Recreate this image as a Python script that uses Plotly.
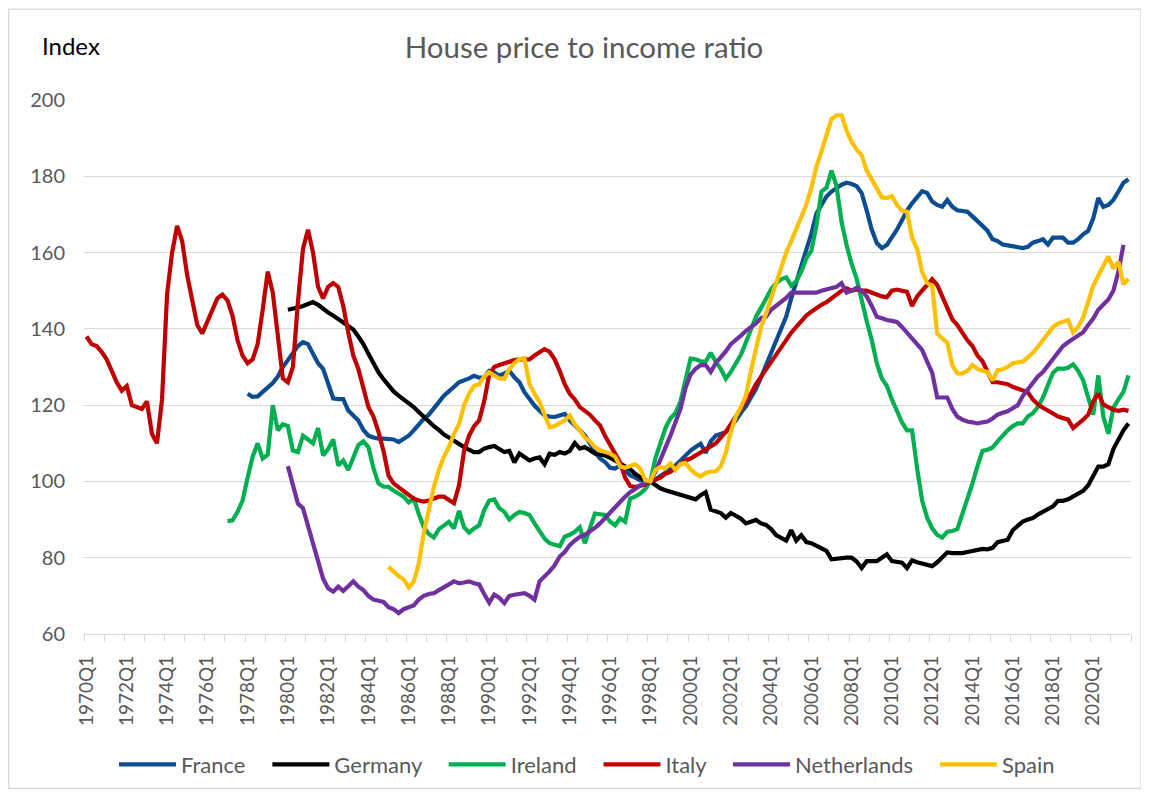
import plotly.graph_objects as go

# ---------------- data ----------------
years = list(range(1970, 2022))
quarters = [f"{y}Q{q}" for y in years for q in range(1, 5)]   # 1970Q1 .. 2021Q4
tick_labels = [q for q in quarters if q.endswith("Q1") and int(q[:4]) % 2 == 0]

italy = [
    138, 136, 135.5, 134,      # 1970
    132, 129, 126, 123.8,      # 1971
    125, 120, 119.5, 119,      # 1972
    121, 112.5, 110, 121.5,    # 1973
    149, 160, 167, 163,        # 1974
    154, 147, 141, 138.8,      # 1975
    142, 145.5, 148, 149,      # 1976
    147.5, 143.5, 137, 133,    # 1977
    131, 132, 136, 145,        # 1978
    155, 149.5, 138, 127,      # 1979
    126, 130, 147, 161,        # 1980
    166, 160, 151, 148,        # 1981
    151, 152, 151, 146,        # 1982
    139, 133, 129.5, 124,      # 1983
    119.5, 117, 113, 108,      # 1984
    101.5, 99.5, 98.5, 97.5,   # 1985
    96.5, 95.5, 95, 94.7,      # 1986
    95, 95.5, 96, 96,          # 1987
    95.2, 94.3, 99, 108,       # 1988
    112, 114.5, 116, 121,      # 1989
    128, 130, 130.5, 131,      # 1990
    131.5, 131.8, 132, 132,    # 1991
    132, 133, 134, 134.7,      # 1992
    134, 132, 129, 125.5,      # 1993
    123, 121.5, 119.5, 118.5,  # 1994
    117.5, 116, 114.7, 112,    # 1995
    109.5, 107.5, 105, 101,    # 1996
    98.8, 98.5, 98.8, 99.2,    # 1997
    100, 100.5, 101, 102,      # 1998
    102.5, 103.5, 104.5, 105.5,# 1999
    106, 106.8, 107.3, 108.2,  # 2000
    109, 110, 111.5, 113,      # 2001
    115, 117, 119, 121,        # 2002
    123, 125.5, 127.5, 129.5,  # 2003
    131.5, 133.5, 135.5, 137.5,# 2004
    139, 140.5, 142, 143.5,    # 2005
    144.5, 145.5, 146.3, 147,  # 2006
    148, 149, 150, 150.6,      # 2007
    150, 150.3, 150, 150,      # 2008
    149.5, 149, 148.5, 148.3,  # 2009
    150, 150.3, 150, 149.7,    # 2010
    146, 148.5, 150, 151.5,    # 2011
    153, 151.5, 148.5, 145,    # 2012
    142.5, 141, 139, 137,      # 2013
    135.5, 133, 131.5, 129,    # 2014
    126, 126, 125.7, 125.5,    # 2015
    124.8, 124.3, 123.8, 123.4,# 2016
    121.5, 120.2, 119.3, 118.4,# 2017
    117.8, 117, 116.5, 116.2,  # 2018
    114, 115, 116.2, 117.5,    # 2019
    121, 123, 120.2, 119.5,    # 2020
    118.8, 118.5, 118.8, 118.5,# 2021
]

germany = [None] * 40 + [
    145, 145.2, 145.6, 146,    # 1980
    146.5, 147, 146.3, 145.2,  # 1981
    144.3, 143.5, 142.6, 141.8,# 1982
    141, 139.8, 138, 136,      # 1983
    133.5, 131, 128.6, 126.8,  # 1984
    125, 123.6, 122.5, 121.5,  # 1985
    120.6, 119.5, 118.2, 117,  # 1986
    115.5, 114.5, 113.5, 112.3,# 1987
    111.5, 110.6, 109.8, 109,  # 1988
    108.3, 107.7, 107.7, 108.6,# 1989
    109, 109.3, 108.5, 107.7,  # 1990
    108, 105, 107.3, 106.5,    # 1991
    105.5, 106, 106.3, 104.5,  # 1992
    107.3, 107, 107.7, 107.3,  # 1993
    108, 110.1, 108.6, 109,    # 1994
    108, 107.3, 107, 106.8,    # 1995
    106.2, 105.5, 104.8, 104.2,# 1996
    103.2, 102, 101, 100.2,    # 1997
    100, 99, 98.2, 97.7,       # 1998
    97.3, 97, 96.6, 96.2,      # 1999
    95.8, 95.3, 96.4, 97.2,    # 2000
    92.6, 92.2, 91.7, 90.5,    # 2001
    91.7, 91, 90.2, 89,        # 2002
    89.5, 89.9, 89, 88.6,      # 2003
    87.5, 85.9, 85.2, 84.5,    # 2004
    87.2, 84.5, 85.9, 84.1,    # 2005
    83.8, 83.2, 82.5, 81.8,    # 2006
    79.6, 79.8, 80, 80,        # 2007
    80, 79, 77.3, 79.1,        # 2008
    79.1, 79.1, 80, 80.9,      # 2009
    79.1, 78.9, 78.7, 77.3,    # 2010
    79.3, 78.8, 78.5, 78.2,    # 2011
    77.8, 78.8, 80.2, 81.4,    # 2012
    81.2, 81.1, 81.2, 81.5,    # 2013
    81.8, 82.1, 82.3, 82.2,    # 2014
    82.6, 84.1, 84.3, 84.7,    # 2015
    87.2, 88.4, 89.5, 90,      # 2016
    90.4, 91.3, 92, 92.5,      # 2017
    93.5, 94.9, 94.9, 95.3,    # 2018
    96, 96.8, 97.5, 99,        # 2019
    101.5, 103.9, 103.9, 104.5,# 2020
    108.5, 111.1, 113.4, 115.2,# 2021
]

france = [None] * 32 + [
    123, 122.2, 122.3, 123.4,  # 1978
    124.5, 125.8, 127.5, 130,  # 1979
    131.8, 133.5, 135.5, 136.5,# 1980
    136, 133.5, 131, 129.5,    # 1981
    125.5, 121.8, 121.6, 121.6,# 1982
    118.6, 117.3, 116, 113.5,  # 1983
    112, 111.5, 111.2, 111.2,  # 1984
    111.2, 111, 110.3, 111,    # 1985
    112, 113.4, 115, 116.4,    # 1986
    117.5, 119, 120.8, 122.5,  # 1987
    123.8, 124.8, 126, 126.4,  # 1988
    127, 127.7, 127.2, 127.3,  # 1989
    129, 128.6, 127.7, 128.3,  # 1990
    129, 127.3, 126, 123.4,    # 1991
    121.5, 119.9, 118.5, 117.3,# 1992
    117, 116.9, 117.3, 117.7,  # 1993
    116, 114.7, 113.5, 112.1,  # 1994
    110, 107.7, 106, 105.1,    # 1995
    103.6, 103.4, 104.2, 103,  # 1996
    101.6, 101, 100.3, 100.3,  # 1997
    100, 100.5, 101.3, 102.1,  # 1998
    103.2, 104.2, 105.5, 106.8,# 1999
    108.1, 109, 109.9, 107.5,  # 2000
    110.5, 112, 112.5, 112.9,  # 2001
    114.5, 116, 118, 119.7,    # 2002
    122, 124.2, 127.3, 130.5,  # 2003
    133.7, 136.9, 140, 143.2,  # 2004
    148, 152.2, 156, 160.3,    # 2005
    165, 170.2, 172.5, 174.7,  # 2006
    176, 177, 177.8, 178.3,    # 2007
    178, 177.4, 175.6, 171,    # 2008
    166, 162.5, 161.2, 162,    # 2009
    164, 166, 168.5, 171,      # 2010
    172.9, 174.5, 176.1, 175.6,# 2011
    173.4, 172.5, 172, 173.8,  # 2012
    172, 171.1, 170.9, 170.7,  # 2013
    169.5, 168.4, 167, 165.7,  # 2014
    163.5, 163, 162.1, 161.9,  # 2015
    161.7, 161.5, 161.2, 161.5,# 2016
    162.6, 163, 163.5, 162.1,  # 2017
    163.9, 163.9, 163.9, 162.6,# 2018
    162.6, 163.5, 164.8, 165.7,# 2019
    169, 174.3, 172, 172.5,    # 2020
    173.8, 176, 178.3, 179.2,  # 2021
]

ireland = [None] * 28 + [
    89.6, 89.8, 92, 95,        # 1977
    101, 106.5, 110, 106,      # 1978
    107, 120, 113.4, 115,      # 1979
    114.5, 108.1, 107.7, 112,  # 1980
    111, 110, 114, 106.8,      # 1981
    108.5, 111, 104.2, 105.5,  # 1982
    103, 106, 109.5, 110.5,    # 1983
    109, 103.5, 99.5, 98.6,    # 1984
    98.6, 97.6, 96.8, 96,      # 1985
    94.5, 95.5, 91.5, 88,      # 1986
    86.2, 85.3, 87.5, 88.5,    # 1987
    89.4, 87.7, 92.3, 88,      # 1988
    86.6, 87.7, 88.5, 92.5,    # 1989
    95, 95.3, 93, 92,          # 1990
    90, 91.2, 92, 91.7,        # 1991
    91.2, 89, 86.8, 85,        # 1992
    83.8, 83.3, 83, 85.5,      # 1993
    86, 86.8, 88, 83.8,        # 1994
    88, 91.6, 91.4, 91.2,      # 1995
    89.5, 88.5, 90.3, 89.4,    # 1996
    95.5, 96, 96.8, 98,        # 1997
    100, 106, 110, 114,        # 1998
    116.5, 118, 121, 127,      # 1999
    132.2, 132, 131.5, 131.4,  # 2000
    133.7, 131.4, 129.5, 126.9,# 2001
    128.7, 131, 133.2, 136.5,  # 2002
    140, 143.2, 145.5, 148,    # 2003
    150.4, 152, 153, 153.5,    # 2004
    151.3, 152.5, 155, 158.5,  # 2005
    160.5, 167, 176, 177,      # 2006
    181.5, 177.4, 168, 162,    # 2007
    157, 153.1, 147, 142,      # 2008
    137, 131, 127, 125,        # 2009
    121.5, 118.5, 115.5, 113.4,# 2010
    113.4, 103.5, 95, 90.5,    # 2011
    87.7, 86, 85.3, 86.8,      # 2012
    87, 87.5, 91.5, 95,        # 2013
    99.5, 104, 108, 108.3,     # 2014
    108.9, 110.5, 112, 113.4,  # 2015
    114.5, 115.2, 115.2, 117,  # 2016
    117.9, 119.5, 122, 125.5,  # 2017
    128.5, 129.6, 129.5, 129.8,# 2018
    130.7, 129, 126.5, 122,    # 2019
    117.5, 127.8, 117, 112.5,  # 2020
    119.3, 121.5, 123.5, 127.8,# 2021
]

netherlands = [None] * 40 + [
    104, 99, 94.2, 93,         # 1980
    88.5, 84, 79.8, 74.5,      # 1981
    72, 71.1, 72.4, 71.3,      # 1982
    72.5, 73.8, 72.4, 71.5,    # 1983
    70, 69, 68.7, 68.4,        # 1984
    67, 66.5, 65.5, 66.5,      # 1985
    67, 67.5, 69, 70,          # 1986
    70.5, 70.7, 71.5, 72.4,    # 1987
    73, 73.8, 73.3, 73.5,      # 1988
    73.8, 73.3, 73, 70.5,      # 1989
    68.2, 70.3, 69.5, 68.1,    # 1990
    70, 70.3, 70.5, 70.7,      # 1991
    70, 69, 73.8, 75,          # 1992
    76.4, 78, 80.3, 81.5,      # 1993
    83.3, 84.5, 85.5, 86,      # 1994
    86.8, 87.8, 89, 90.5,      # 1995
    92, 93.3, 94.6, 96,        # 1996
    97.2, 98, 99, 99.6,        # 1997
    100, 102.5, 105.5, 109,    # 1998
    112, 115.5, 119, 124.5,    # 1999
    128, 129.5, 130.5, 130.5,  # 2000
    128.7, 131, 132.5, 134.1,  # 2001
    136, 137, 138.2, 139.5,    # 2002
    140.5, 141.4, 142.8, 143.2,# 2003
    145, 146, 147, 148.1,      # 2004
    149.5, 149.5, 149.5, 149.3,# 2005
    149.5, 149.5, 150, 150.4,  # 2006
    150.8, 151, 152, 149.5,    # 2007
    150, 150.8, 150, 148.5,    # 2008
    146, 143.2, 142.8, 142.3,  # 2009
    142.1, 141.8, 140.5, 139,  # 2010
    137.8, 136, 134.5, 131.4,  # 2011
    128.5, 122, 122, 122,      # 2012
    119, 117, 116.2, 115.7,    # 2013
    115.5, 115.2, 115.5, 115.7,# 2014
    116.5, 117.5, 118, 118.4,  # 2015
    119.2, 120, 122.4, 124,    # 2016
    126, 127.5, 128.7, 130.5,  # 2017
    132.3, 134, 135.5, 136.5,  # 2018
    137.3, 138.2, 139.1, 141,  # 2019
    142.7, 145, 146.3, 147.7,  # 2020
    150, 155, 162, None,       # 2021
]

spain = [None] * 60 + [
    77.6, 76.3, 75.2, 74.3,    # 1985
    72.2, 73.7, 78.5, 86.5,    # 1986
    93, 98.5, 103, 106.5,      # 1987
    109, 112.5, 115, 120,      # 1988
    123, 125, 125.5, 127.5,    # 1989
    128.6, 127.8, 127, 126.9,  # 1990
    129.5, 131, 132.1, 132.3,  # 1991
    125.5, 123, 120.8, 117.5,  # 1992
    114.2, 114.5, 115.1, 116,  # 1993
    117.3, 115, 113.4, 111.5,  # 1994
    110.5, 109, 108.2, 107.8,  # 1995
    107.3, 106.5, 104, 103.6,  # 1996
    104.2, 104.5, 103.4, 100.3,# 1997
    100, 103, 103.8, 103.4,    # 1998
    104.7, 103, 104.6, 104.8,  # 1999
    103.2, 102, 101.3, 102.2,  # 2000
    102.6, 102.6, 104, 107.5,  # 2001
    113, 117, 119.5, 122.5,    # 2002
    129, 134.5, 140.5, 144,    # 2003
    148, 152, 156, 160,        # 2004
    163, 166, 169.5, 172.5,    # 2005
    177, 182.5, 186.5, 191,    # 2006
    195, 196, 196, 192,        # 2007
    189, 187, 185.5, 181.5,    # 2008
    179, 176.5, 174.5, 174.3,  # 2009
    174.8, 172.5, 171, 170.7,  # 2010
    163.9, 161, 155, 152,      # 2011
    151.3, 138.7, 137.5, 136.4,# 2012
    130.5, 128.3, 128.3, 129,  # 2013
    130.5, 129.5, 129, 128.7,  # 2014
    126.5, 129.2, 129.4, 130,  # 2015
    131, 131.2, 131.4, 132.5,  # 2016
    133.7, 135.3, 136.9, 138.7,# 2017
    140.5, 141.4, 141.9, 142.3,# 2018
    139.1, 140.5, 143, 146.8,  # 2019
    151.3, 154, 156.5, 159,    # 2020
    155.8, 157.6, 151.7, 153.1,# 2021
]

series = [
    ("France", france, "#0B4C92"),
    ("Germany", germany, "#000000"),
    ("Ireland", ireland, "#00B050"),
    ("Italy", italy, "#C00000"),
    ("Netherlands", netherlands, "#7030A0"),
    ("Spain", spain, "#FFC000"),
]

# ---------------- figure ----------------
FONT = "Lato"
GREY = "#595959"
GRID = "#D9D9D9"

W, H = 1141, 790            # page adds an 8px body margin
L, R, T, B = 76, 18, 92, 162
PW, PH = W - L - R, H - T - B


def px(xf):
    return (xf - L) / PW


def py(yf):
    return (H - B - yf) / PH


PAD = "\u00a0" * 3          # extra spacing between legend entries

x_idx = list(range(len(quarters)))
fig = go.Figure()
for k, (name, vals, col) in enumerate(series):
    label = name + (PAD if k < len(series) - 1 else "")
    fig.add_trace(go.Scatter(
        x=x_idx, y=vals, name=label, mode="lines",
        line=dict(color=col, width=4.2),
        connectgaps=False, hoverinfo="skip",
    ))

label_pos = [quarters.index(t) for t in tick_labels]
boundaries = [i - 0.5 for i in range(0, len(quarters) + 1, 4)]

fig.update_layout(
    width=W, height=H,
    margin=dict(l=L, r=R, t=T, b=B),
    paper_bgcolor="white", plot_bgcolor="white",
    font=dict(family=FONT, color=GREY),
    title=dict(text="House price to income ratio", x=(584 - 8) / W, xref="container",
               y=1 - 40 / H, yref="container", xanchor="center", yanchor="middle",
               font=dict(size=29.5, color=GREY, family=FONT)),
    showlegend=True,
    legend=dict(orientation="h", x=px(579), xanchor="center", y=py(759), yanchor="middle",
                yref="paper", font=dict(size=22, color=GREY, family=FONT),
                itemwidth=57, tracegroupgap=0, traceorder="normal"),
    xaxis=dict(
        range=[-0.5, len(quarters) - 0.5],
        tickmode="array", tickvals=label_pos, ticktext=tick_labels,
        tickangle=-90, ticks="", showgrid=False, zeroline=False,
        showline=True, linecolor=GRID, linewidth=1.3,
        tickfont=dict(size=19, color=GREY, family=FONT),
        ticklabelstandoff=13,
        minor=dict(tickmode="array", tickvals=boundaries, ticks="outside",
                   ticklen=7, tickcolor=GRID, tickwidth=1, showgrid=False),
    ),
    yaxis=dict(
        range=[60, 200], tickmode="linear", tick0=60, dtick=20,
        showgrid=True, gridcolor=GRID, gridwidth=1.3, zeroline=False,
        showline=False, ticks="",
        tickfont=dict(size=20, color=GREY, family=FONT),
        ticklabelstandoff=18,
    ),
    annotations=[dict(text="Index", xref="paper", yref="paper",
                      x=px(32), y=py(37),
                      xanchor="left", yanchor="middle", showarrow=False,
                      font=dict(size=24, color="#000000", family=FONT))],
    shapes=[dict(type="rect", xref="paper", yref="paper",
                 x0=px(0.7), x1=px(1133), y0=py(783), y1=py(0.7),
                 line=dict(color=GRID, width=1.3), fillcolor="rgba(0,0,0,0)",
                 layer="below")],
)

fig.write_html("out.html")
